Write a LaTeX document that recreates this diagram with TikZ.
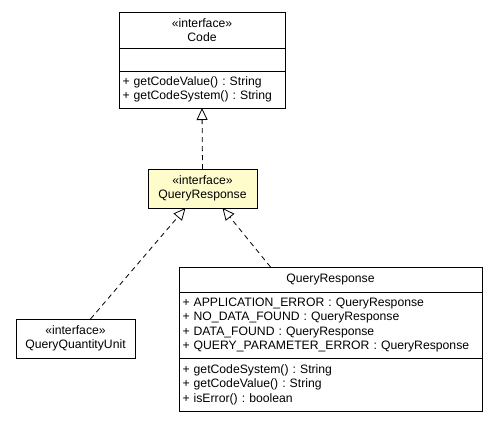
\documentclass[tikz,border=0pt]{standalone}
\usepackage{fontspec}
\setmainfont{Liberation Sans}
\definecolor{ifaceyellow}{RGB}{255, 252, 204}
\usetikzlibrary{arrows.meta, positioning}
\frenchspacing

\begin{document}
\begin{tikzpicture}[
  x=1pt, y=-1pt,
  umlbox/.style={draw, line width=0.9pt, inner xsep=3.5pt, inner ysep=1pt, outer sep=0pt, font=\fontsize{12.2}{14.5}\selectfont},
  headbox/.style={umlbox, align=center, anchor=north west},
  listbox/.style={umlbox, align=left, anchor=north},
  realize/.style={dashed, dash pattern=on 5pt off 4pt, line width=0.8pt, -{Triangle[open, length=12pt, width=11pt, line width=0.8pt]}}
]
  \useasboundingbox (0,0) rectangle (497,421);

  % interface Code
  \node[headbox, minimum width=166, minimum height=36] (codeHead) at (119,12) {«interface»\\Code};
  \node[listbox, minimum width=166, minimum height=23, below=0pt of codeHead] (codeAttr) {};
  \node[listbox, text width=159, minimum height=37, below=0pt of codeAttr] (codeOps) {+ getCodeValue() : String\\+ getCodeSystem() : String};

  % interface QueryResponse
  \node[headbox, fill=ifaceyellow, minimum width=109, minimum height=39] (qrIface) at (148,169) {«interface»\\QueryResponse};

  % interface QueryQuantityUnit
  \node[headbox, minimum width=119, minimum height=39] (qqUnit) at (16,319) {«interface»\\QueryQuantityUnit};

  % enum QueryResponse
  \node[headbox, minimum width=303, minimum height=25] (qrEnumHead) at (179,267) {QueryResponse};
  \node[listbox, text width=296, minimum height=66, below=0pt of qrEnumHead] (qrEnumAttr) {+ APPLICATION\_ERROR : QueryResponse\\+ NO\_DATA\_FOUND : QueryResponse\\+ DATA\_FOUND : QueryResponse\\+ QUERY\_PARAMETER\_ERROR : QueryResponse};
  \node[listbox, text width=296, minimum height=53, below=0pt of qrEnumAttr] (qrEnumOps) {+ getCodeSystem() : String\\+ getCodeValue() : String\\+ isError() : boolean};

  % realizations
  \draw[realize] (qrIface.north) -- (codeOps.south);
  \draw[realize] ([xshift=15pt]qqUnit.north) -- ([xshift=-17pt]qrIface.south);
  \draw[realize] ([xshift=-60pt]qrEnumHead.north) -- ([xshift=20pt]qrIface.south);
\end{tikzpicture}
\end{document}
